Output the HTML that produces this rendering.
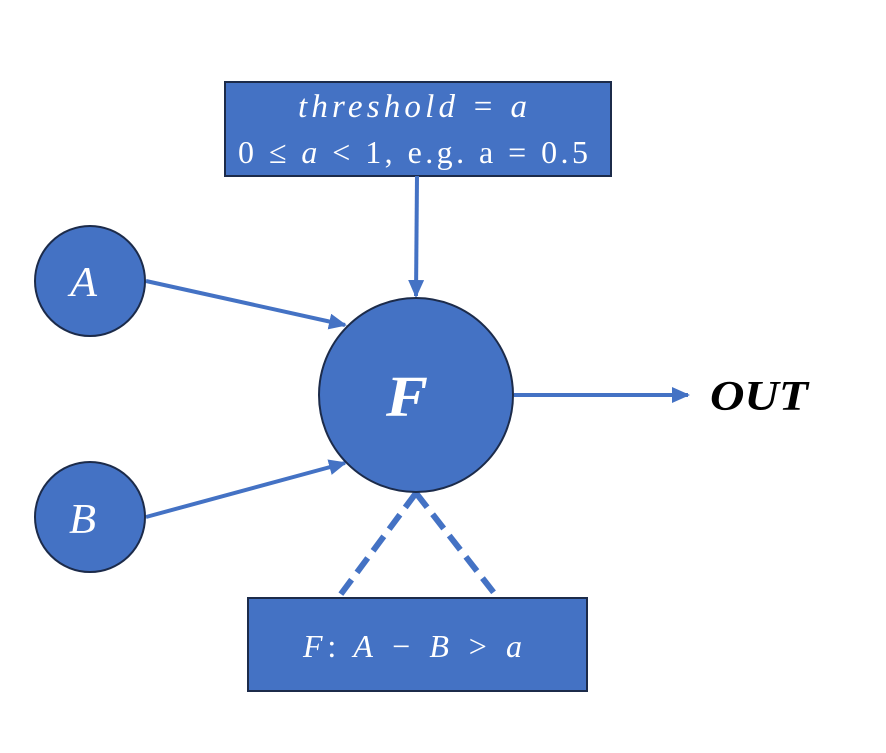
<!DOCTYPE html>
<html><head><meta charset="utf-8"><style>
html,body{margin:0;padding:0;background:#fff;}
svg{display:block;}
text{font-family:"Liberation Serif","DejaVu Serif",serif;}
</style></head><body>
<svg width="886" height="753" viewBox="0 0 886 753">
<defs>
<marker id="ah2" markerWidth="18" markerHeight="16" refX="16" refY="8" orient="auto" markerUnits="userSpaceOnUse" viewBox="0 0 18 16">
<path d="M0,0 L18,8 L0,16 z" fill="#4472C4"/>
</marker>
</defs>
<g>
<rect x="225" y="82" width="386" height="94" fill="#4472C4" stroke="#1c2b4a" stroke-width="2"/>
<text x="298" y="117" fill="#fff" font-size="33" font-style="italic" textLength="229" lengthAdjust="spacing">threshold = a</text>
<text x="238" y="163" fill="#fff" font-size="32" textLength="350" lengthAdjust="spacing">0 ≤ <tspan font-style="italic">a</tspan> &lt; 1, e.g. a = 0.5</text>
</g>
<line x1="417" y1="176" x2="416" y2="296" stroke="#4472C4" stroke-width="4" marker-end="url(#ah2)"/>
<line x1="146" y1="281" x2="345" y2="325" stroke="#4472C4" stroke-width="4" marker-end="url(#ah2)"/>
<line x1="146" y1="517" x2="345" y2="463" stroke="#4472C4" stroke-width="4" marker-end="url(#ah2)"/>
<line x1="514" y1="395" x2="688" y2="395" stroke="#4472C4" stroke-width="4" marker-end="url(#ah2)"/>
<line x1="416" y1="493" x2="338" y2="598" stroke="#4472C4" stroke-width="6" stroke-dasharray="18,9"/>
<line x1="416" y1="493" x2="498" y2="598" stroke="#4472C4" stroke-width="6" stroke-dasharray="18,9"/>
<g>
<circle cx="90" cy="281" r="55" fill="#4472C4" stroke="#1c2b4a" stroke-width="2"/>
<text x="70" y="296" fill="#fff" font-size="42" font-style="italic" textLength="27" lengthAdjust="spacingAndGlyphs">A</text>
</g>
<g>
<circle cx="90" cy="517" r="55" fill="#4472C4" stroke="#1c2b4a" stroke-width="2"/>
<text x="69" y="533" fill="#fff" font-size="42" font-style="italic" textLength="27" lengthAdjust="spacingAndGlyphs">B</text>
</g>
<g>
<circle cx="416" cy="395" r="97" fill="#4472C4" stroke="#1c2b4a" stroke-width="2"/>
<text x="386" y="416" fill="#fff" font-size="58" font-style="italic" font-weight="bold" textLength="42" lengthAdjust="spacingAndGlyphs">F</text>
</g>
<text x="710" y="410" fill="#000" font-size="42" font-style="italic" font-weight="bold" textLength="98" lengthAdjust="spacingAndGlyphs">OUT</text>
<g>
<rect x="248" y="598" width="339" height="93" fill="#4472C4" stroke="#1c2b4a" stroke-width="2"/>
<text x="303" y="657" fill="#fff" font-size="32" font-style="italic" textLength="219" lengthAdjust="spacing">F<tspan font-style="normal">:</tspan> A − B &gt; a</text>
</g>
</svg>
</body></html>
